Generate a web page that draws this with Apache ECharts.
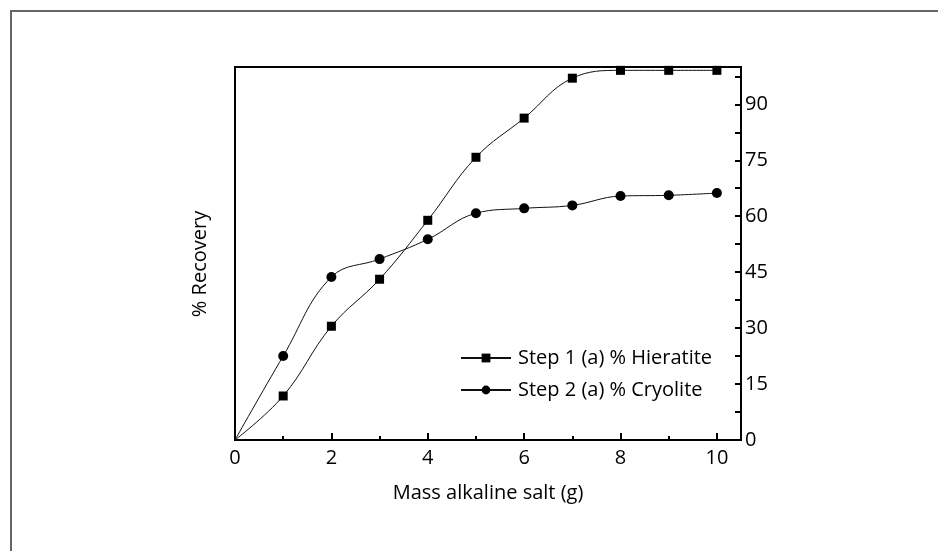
<!DOCTYPE html>
<html>
<head>
<meta charset="utf-8">
<script src="https://cdn.jsdelivr.net/npm/echarts@6/dist/echarts.min.js"></script>
<style>
  html, body { margin: 0; padding: 0; background: #fff; }
  #chart { width: 938px; height: 551px; }
</style>
</head>
<body>
<div id="chart"></div>
<script>
// mass of alkaline salt (g)
const massX = [0, 1, 2, 3, 4, 5, 6, 7, 8, 9, 10];
// % recovery
const hieratite = [0, 11.8, 30.5, 43.1, 58.9, 75.8, 86.3, 97.0, 99.1, 99.1, 99.1];
const cryolite = [0, 22.5, 43.7, 48.5, 53.8, 60.8, 62.1, 62.9, 65.4, 65.6, 66.2];

const xLabels = [0, 2, 4, 6, 8, 10];
const xMinor = [1, 3, 5, 7, 9];
const yLabels = [0, 15, 30, 45, 60, 75, 90];

const seriesNames = ["Step 1 (a) % Hieratite", "Step 2 (a) % Cryolite"];

const font = "'Open Sans', 'Noto Sans', sans-serif";

// first point sits on the origin without a marker
const toPoints = (ys) =>
  massX.map((x, i) => (i === 0 ? { value: [x, ys[i]], symbol: "none" } : [x, ys[i]]));

const chart = echarts.init(document.getElementById("chart"), null, { renderer: "canvas" });

const option = {
  animation: false,
  backgroundColor: "#fff",
  textStyle: { fontFamily: font, color: "#000" },
  grid: {
    left: 235,
    right: 197,
    top: 67,
    bottom: 111,
    show: true,
    borderColor: "#000",
    borderWidth: 2,
  },
  legend: {
    left: 455,
    top: 343,
    orient: "vertical",
    itemWidth: 50,
    itemHeight: 11,
    itemGap: 12,
    textStyle: { fontFamily: font, fontSize: 20, color: "#000", padding: [0, 0, 0, 2] },
    data: seriesNames,
  },
  xAxis: [
    {
      type: "value",
      min: 0,
      max: 10.5,
      name: "Mass alkaline salt (g)",
      nameLocation: "middle",
      nameGap: 43,
      nameTextStyle: { fontFamily: font, fontSize: 20, color: "#000" },
      axisLine: { show: true, onZero: false, lineStyle: { color: "#000", width: 2 } },
      axisTick: { inside: true, length: 7, lineStyle: { color: "#000", width: 2 }, customValues: xLabels },
      axisLabel: { customValues: xLabels, fontSize: 20, color: "#000", margin: 8, fontFamily: font },
      splitLine: { show: false },
    },
    {
      type: "value",
      min: 0,
      max: 10.5,
      position: "bottom",
      axisLine: { show: false, onZero: false },
      axisTick: { inside: true, length: 4, lineStyle: { color: "#000", width: 2 }, customValues: xMinor },
      axisLabel: { show: false },
      splitLine: { show: false },
    },
  ],
  yAxis: [
    {
      type: "value",
      position: "right",
      min: 0,
      max: 100,
      interval: 7.5,
      axisLine: { show: true, onZero: false, lineStyle: { color: "#000", width: 2 } },
      axisTick: { inside: true, length: 6, lineStyle: { color: "#000", width: 2 } },
      axisLabel: {
        fontSize: 20,
        color: "#000",
        margin: 4,
        fontFamily: font,
        formatter: (v) => (yLabels.includes(v) ? String(v) : ""),
      },
      splitLine: { show: false },
    },
  ],
  graphic: [
    {
      type: "polyline",
      shape: { points: [[11, 560], [11, 11], [945, 11]] },
      style: { stroke: "#666", lineWidth: 2, fill: null },
      silent: true,
    },
    {
      type: "text",
      x: 200,
      y: 264,
      rotation: Math.PI / 2,
      style: {
        text: "% Recovery",
        fontFamily: font,
        fontSize: 20,
        fill: "#000",
        align: "center",
        verticalAlign: "middle",
      },
    },
  ],
  series: [
    {
      name: seriesNames[0],
      type: "line",
      smooth: 0.4,
      symbol: "rect",
      symbolSize: 9,
      itemStyle: { color: "#000" },
      lineStyle: { color: "#111", width: 1 },
      data: toPoints(hieratite),
    },
    {
      name: seriesNames[1],
      type: "line",
      smooth: 0.4,
      symbol: "circle",
      symbolSize: 10,
      itemStyle: { color: "#000" },
      lineStyle: { color: "#111", width: 1 },
      data: toPoints(cryolite),
    },
  ],
};

chart.setOption(option);
</script>
</body>
</html>
